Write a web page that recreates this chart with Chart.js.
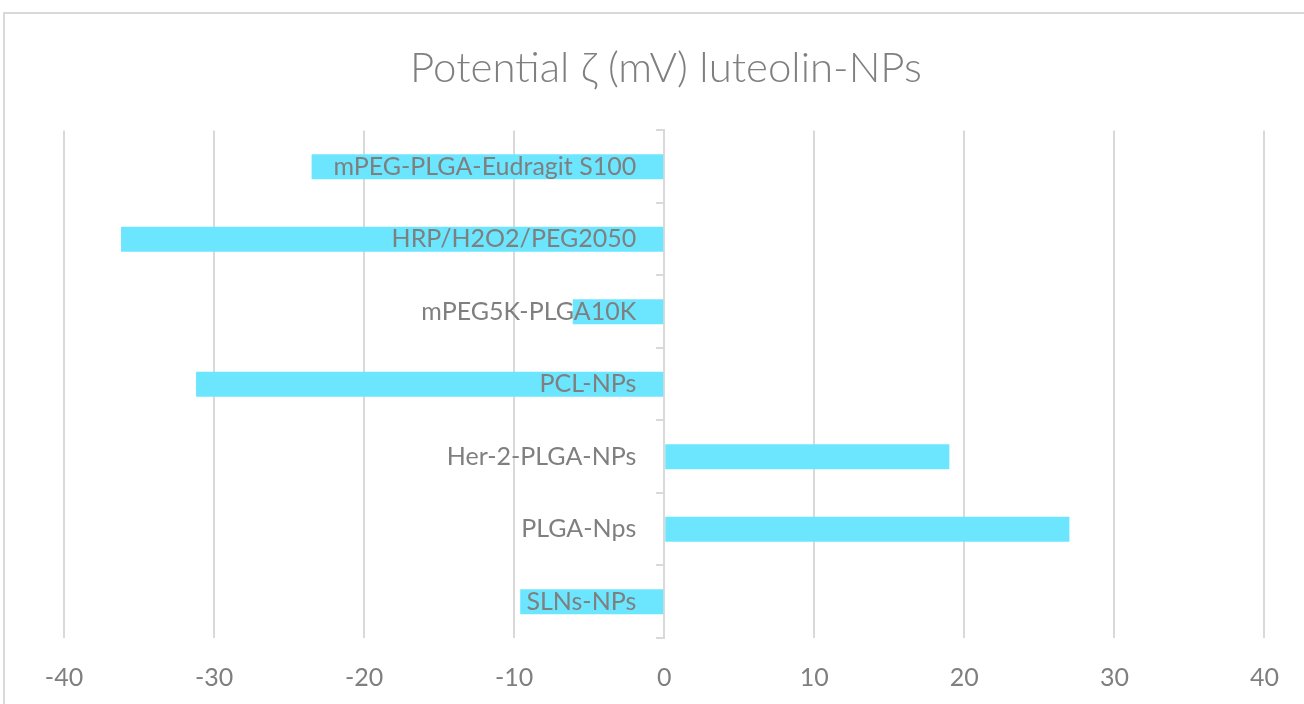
<!DOCTYPE html>
<html>
<head>
<meta charset="utf-8">
<title>Potential ζ (mV) luteolin-NPs</title>
<script src="https://cdn.jsdelivr.net/npm/chart.js@4/dist/chart.umd.min.js"></script>
<style>
  html, body { margin: 0; padding: 0; background: #ffffff; }
  #wrap { width: 1304px; height: 704px; position: relative; }
</style>
</head>
<body>
<div id="wrap"><canvas id="chart" width="1304" height="704"></canvas></div>
<script>
// Formulations, listed top to bottom
const categories = [
  'mPEG-PLGA-Eudragit S100',
  'HRP/H2O2/PEG2050',
  'mPEG5K-PLGA10K',
  'PCL-NPs',
  'Her-2-PLGA-NPs',
  'PLGA-Nps',
  'SLNs-NPs'
];
// Zeta potential in mV
const zetaValues = [-23.5, -36.2, -6.1, -31.2, 19.0, 27.0, -9.6];
// Value axis range and step
const axisMin = -40;
const axisMax = 40;
const axisStep = 10;

const textGray = '#7f7f7f';
const gridGray = '#d9d9d9';
const barCyan = '#6ce6ff';
const categoryLabelGap = 28;   // space between category labels and the zero axis

// White background and light frame around the chart
const framePlugin = {
  id: 'frame',
  beforeDraw(chart) {
    const ctx = chart.ctx;
    ctx.save();
    ctx.fillStyle = '#ffffff';
    ctx.fillRect(0, 0, chart.width, chart.height);
    ctx.strokeStyle = gridGray;
    ctx.lineWidth = 2;
    ctx.strokeRect(4, 13, chart.width + 20, chart.height + 20);
    ctx.restore();
  }
};

// Category labels sit on the zero axis; move them a little to its left
const labelGapPlugin = {
  id: 'labelGap',
  beforeDraw(chart) {
    const scale = chart.scales.y;
    const items = scale.getLabelItems();
    if (items && !items._gapApplied) {
      items.forEach(item => { item.options.translation[0] -= categoryLabelGap; });
      items._gapApplied = true;
    }
  }
};

new Chart(document.getElementById('chart'), {
  type: 'bar',
  data: {
    labels: categories,
    datasets: [{
      data: zetaValues,
      backgroundColor: barCyan,
      borderWidth: 0,
      categoryPercentage: 1,
      barPercentage: 0.345
    }]
  },
  options: {
    indexAxis: 'y',
    responsive: false,
    animation: false,
    layout: { padding: { left: 64, right: 36, top: 0, bottom: 13 } },
    plugins: {
      legend: { display: false },
      tooltip: { enabled: false },
      title: {
        display: true,
        text: 'Potential ζ (mV) luteolin-NPs',
        color: textGray,
        font: { family: 'Lato', size: 42, weight: 300 },
        padding: { top: 43, bottom: 37 }
      }
    },
    scales: {
      x: {
        min: axisMin,
        max: axisMax,
        afterFit(scale) { scale.height = 53; },
        ticks: {
          stepSize: axisStep,
          color: textGray,
          font: { family: 'Lato', size: 25 },
          padding: 25
        },
        grid: {
          color: gridGray,
          lineWidth: 2,
          drawTicks: false
        },
        border: { display: false }
      },
      y: {
        position: { x: 0 },
        ticks: {
          color: textGray,
          font: { family: 'Lato', size: 25 },
          z: 1
        },
        grid: {
          offset: true,
          drawOnChartArea: false,
          drawTicks: true,
          tickLength: 7,
          color: gridGray,
          lineWidth: 2
        },
        border: { display: true, color: gridGray, width: 2 }
      }
    }
  },
  plugins: [framePlugin, labelGapPlugin]
});
</script>
</body>
</html>
